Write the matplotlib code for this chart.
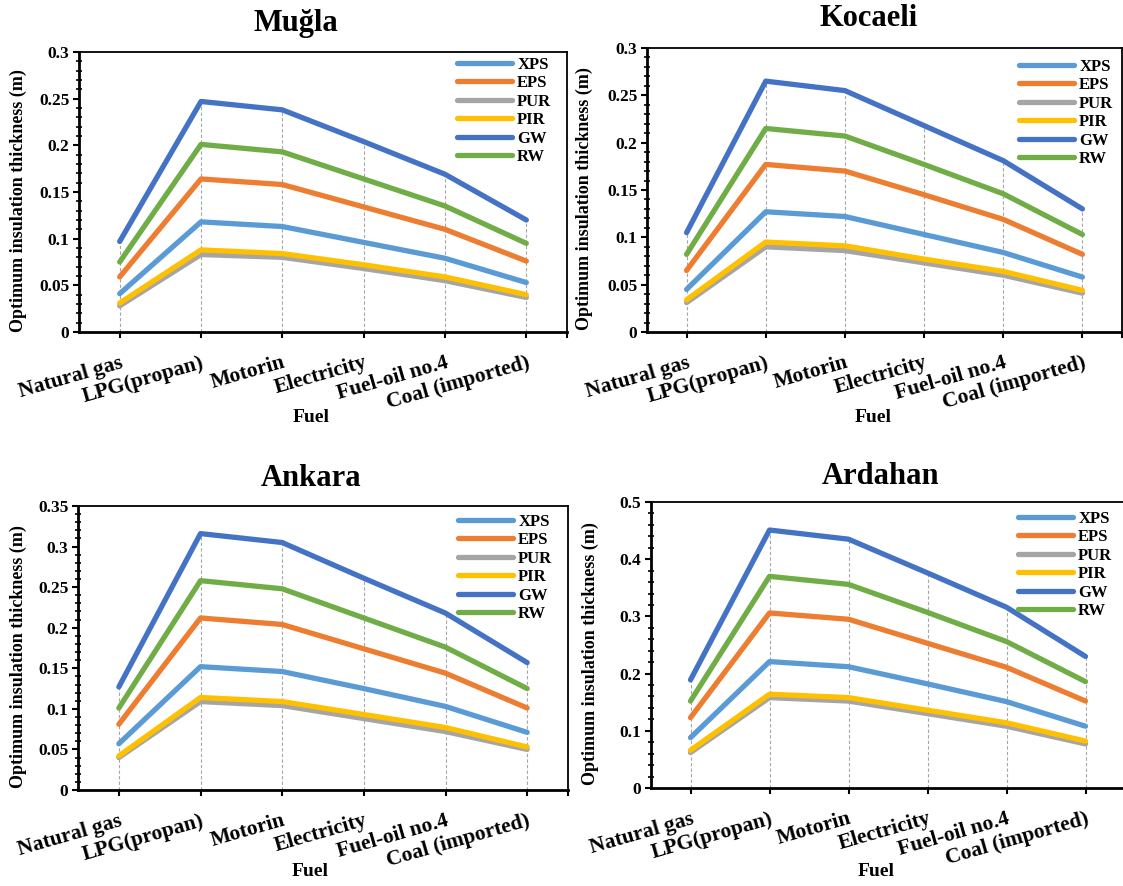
import matplotlib
matplotlib.use("Agg")
import matplotlib.pyplot as plt
from matplotlib.ticker import MultipleLocator, FuncFormatter, FixedLocator
import numpy as np

plt.rcParams['font.family'] = ['Liberation Serif', 'DejaVu Serif']
plt.rcParams['font.weight'] = 'bold'

fuels = ["Natural gas", "LPG(propan)", "Motorin", "Electricity", "Fuel-oil no.4", "Coal (imported)"]
materials = ["XPS", "EPS", "PUR", "PIR", "GW", "RW"]
colors = ["#5B9BD5", "#ED7D31", "#A5A5A5", "#FFC000", "#4472C4", "#70AD47"]

# Muğla
mugla_XPS = [0.041, 0.118, 0.113, 0.096, 0.079, 0.053]
mugla_EPS = [0.059, 0.164, 0.158, 0.134, 0.110, 0.076]
mugla_PUR = [0.028, 0.083, 0.080, 0.068, 0.055, 0.037]
mugla_PIR = [0.031, 0.088, 0.084, 0.072, 0.059, 0.040]
mugla_GW = [0.097, 0.247, 0.238, 0.204, 0.169, 0.120]
mugla_RW = [0.075, 0.201, 0.193, 0.164, 0.135, 0.095]

# Kocaeli
kocaeli_XPS = [0.045, 0.127, 0.122, 0.103, 0.084, 0.058]
kocaeli_EPS = [0.065, 0.177, 0.170, 0.145, 0.119, 0.082]
kocaeli_PUR = [0.031, 0.090, 0.086, 0.073, 0.060, 0.041]
kocaeli_PIR = [0.034, 0.095, 0.091, 0.077, 0.064, 0.044]
kocaeli_GW = [0.105, 0.265, 0.255, 0.218, 0.181, 0.130]
kocaeli_RW = [0.082, 0.215, 0.207, 0.177, 0.146, 0.103]

# Ankara
ankara_XPS = [0.057, 0.152, 0.146, 0.125, 0.103, 0.071]
ankara_EPS = [0.081, 0.212, 0.204, 0.174, 0.144, 0.101]
ankara_PUR = [0.040, 0.109, 0.104, 0.088, 0.072, 0.050]
ankara_PIR = [0.042, 0.114, 0.109, 0.093, 0.077, 0.053]
ankara_GW = [0.127, 0.316, 0.305, 0.261, 0.218, 0.157]
ankara_RW = [0.101, 0.258, 0.248, 0.212, 0.176, 0.125]

# Ardahan
ardahan_XPS = [0.088, 0.221, 0.212, 0.182, 0.151, 0.108]
ardahan_EPS = [0.123, 0.306, 0.295, 0.253, 0.211, 0.152]
ardahan_PUR = [0.062, 0.158, 0.152, 0.130, 0.108, 0.077]
ardahan_PIR = [0.066, 0.164, 0.158, 0.136, 0.114, 0.082]
ardahan_GW = [0.189, 0.451, 0.435, 0.376, 0.316, 0.230]
ardahan_RW = [0.152, 0.370, 0.356, 0.307, 0.256, 0.186]

panels = [
    dict(title="Muğla", data=[mugla_XPS, mugla_EPS, mugla_PUR, mugla_PIR, mugla_GW, mugla_RW],
         box=(79, 567, 52, 332), ymax=0.3, major=0.05, minor=0.01,
         title_xy=(296, 23), ylab_x=18, fuel_xy=(311, 418), leg=(20, 11)),
    dict(title="Kocaeli", data=[kocaeli_XPS, kocaeli_EPS, kocaeli_PUR, kocaeli_PIR, kocaeli_GW, kocaeli_RW],
         box=(647, 1122, 48, 332), ymax=0.3, major=0.05, minor=0.01,
         title_xy=(869, 19), ylab_x=584, fuel_xy=(873, 418), leg=(13, 17)),
    dict(title="Ankara", data=[ankara_XPS, ankara_EPS, ankara_PUR, ankara_PIR, ankara_GW, ankara_RW],
         box=(78, 568, 506, 790), ymax=0.35, major=0.05, minor=0.01,
         title_xy=(311, 479), ylab_x=18, fuel_xy=(310, 872), leg=(20, 14)),
    dict(title="Ardahan", data=[ardahan_XPS, ardahan_EPS, ardahan_PUR, ardahan_PIR, ardahan_GW, ardahan_RW],
         box=(651, 1125, 502, 788), ymax=0.5, major=0.1, minor=0.02,
         title_xy=(881, 476), ylab_x=590, fuel_xy=(876, 872), leg=(17, 15)),
]

W, H = 1123, 886
fig = plt.figure(figsize=(W / 100, H / 100), dpi=100)

fmt = FuncFormatter(lambda v, p: f"{v:g}")

for pnl in panels:
    l, r, t, b = pnl["box"]
    ax = fig.add_axes([l / W, 1 - b / H, (r - l) / W, (b - t) / H])
    x = np.arange(len(fuels))
    data = pnl["data"]
    tops = np.max(np.array(data), axis=0)
    ax.vlines(x, 0, tops, colors="#A6A6A6", linestyles=(0, (3, 2)), linewidth=0.8, zorder=1)
    for name, vals, c in zip(materials, data, colors):
        ax.plot(x, vals, color=c, lw=3.8, label=name, solid_capstyle="round", zorder=3)
    ax.set_xlim(-0.5, len(fuels) - 0.5)
    ax.set_ylim(0, pnl["ymax"])
    ax.yaxis.set_major_locator(MultipleLocator(pnl["major"]))
    ax.yaxis.set_minor_locator(MultipleLocator(pnl["minor"]))
    ax.yaxis.set_major_formatter(fmt)
    ax.set_xticks(x)
    ax.set_xticklabels(fuels, rotation=16, ha="right", rotation_mode="anchor", fontsize=15.5, fontweight="bold")
    ax.xaxis.set_minor_locator(FixedLocator([len(fuels) - 0.5]))
    ax.tick_params(axis="x", which="both", direction="out", length=4, width=1.5, pad=11)
    ax.tick_params(axis="y", which="major", direction="out", length=4, width=1.5, pad=3, labelsize=12.5)
    ax.tick_params(axis="y", which="minor", direction="inout", length=4, width=1.2)
    for lab in ax.get_yticklabels():
        lab.set_fontweight("bold")
    ax.spines["left"].set_linewidth(2.0)
    ax.spines["bottom"].set_linewidth(2.0)
    ax.spines["top"].set_linewidth(1.3)
    ax.spines["right"].set_linewidth(1.3)
    dx, dy = pnl["leg"]
    ax_px_w, ax_px_h = (r - l), (b - t)
    anchor_x = 1 - (dx - 11) / ax_px_w
    anchor_y = 1 - (dy - 13) / ax_px_h
    ax.legend(loc="upper right", frameon=False, handlelength=3.3,
              handletextpad=0.3, labelspacing=0.15, borderaxespad=0.0,
              bbox_to_anchor=(anchor_x, anchor_y),
              prop={"weight": "bold", "size": 12})
    fy = (b - pnl["fuel_xy"][1]) / (b - t)
    fx = (pnl["fuel_xy"][0] - l) / (r - l)
    ax.set_xlabel("Fuel", fontsize=14, fontweight="bold")
    ax.xaxis.set_label_coords(fx, fy)
    ax.xaxis.label.set_va("center")
    ax.set_ylabel("Optimum insulation thickness (m)", fontsize=13, fontweight="bold")
    ax.yaxis.set_label_coords((pnl["ylab_x"] - l) / (r - l), 0.47)
    ax.yaxis.label.set_va("center")
    fig.text(pnl["title_xy"][0] / W, 1 - pnl["title_xy"][1] / H, pnl["title"],
             ha="center", va="center", fontsize=22, fontweight="bold")

fig.savefig("out.png", dpi=100)
